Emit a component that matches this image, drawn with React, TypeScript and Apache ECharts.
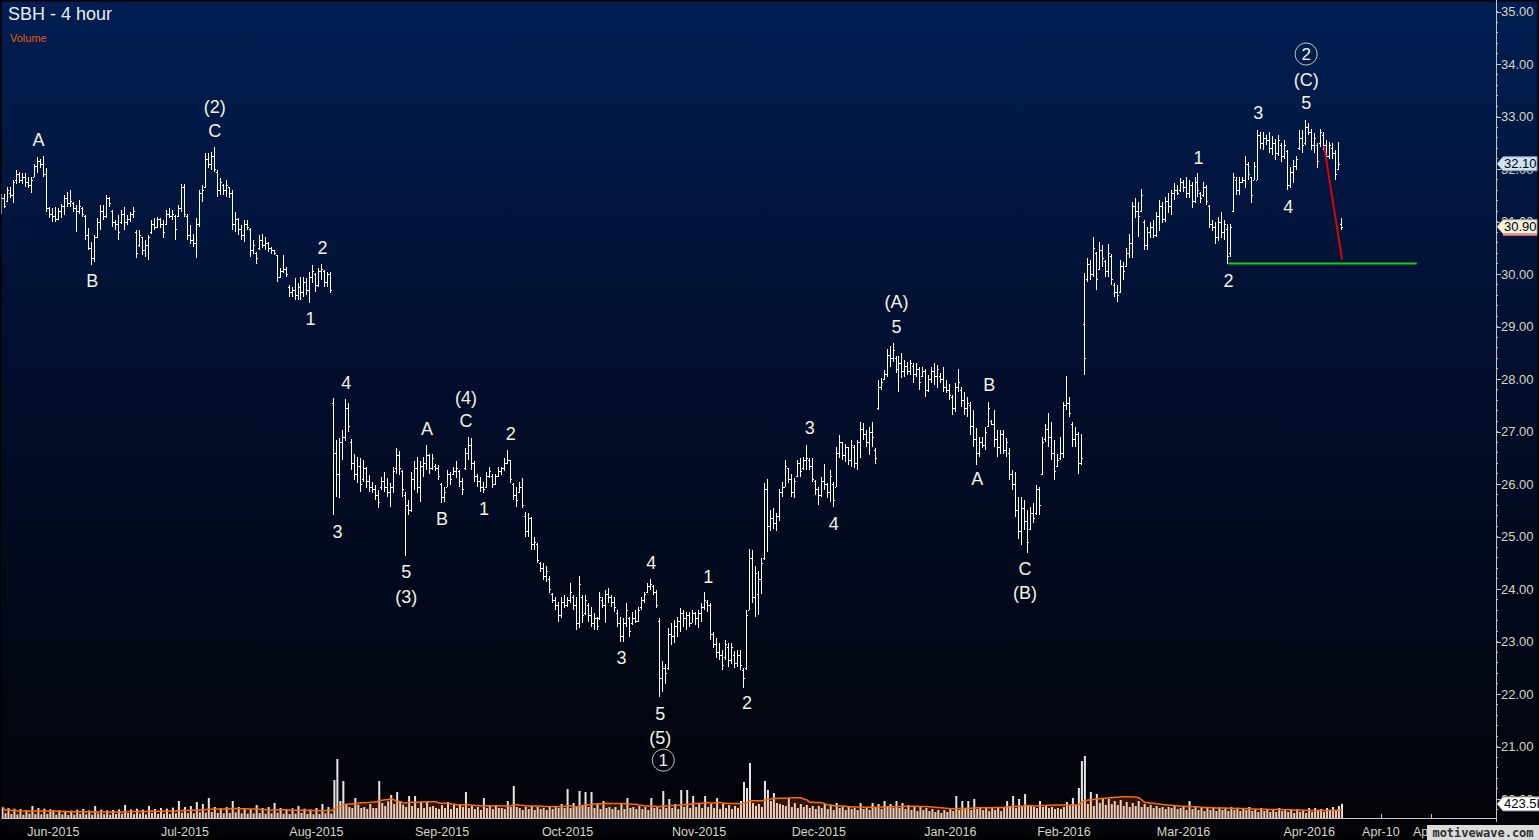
import React, { useEffect, useRef } from "react";
import * as echarts from "echarts";

// ---- OHLC bars (open, high, low, close), 4-hour bars, grouped by month ----
const barsMay2015 = [
  [31.20,31.53,31.14,31.45],[31.45,31.53,31.25,31.30],[31.40,31.66,31.38,31.60],[31.55,31.66,31.44,31.50],
  [31.50,31.80,31.36,31.75],[31.80,31.98,31.72,31.90],[31.90,31.95,31.74,31.80],[31.80,31.92,31.72,31.85],
  [31.85,31.92,31.66,31.75],[31.75,31.85,31.63,31.70],[31.70,31.84,31.55,31.80],[31.85,32.09,31.85,32.05],
  [32.05,32.23,31.92,32.15],[32.15,32.20,32.01,32.10],[32.10,32.25,31.85,31.90],[31.90,32.01,31.18,31.25],
  [31.25,31.28,31.06,31.15],
];
const barsJun2015 = [
  [31.15,31.25,30.99,31.10],[31.10,31.28,30.99,31.05],[31.05,31.25,31.03,31.20],[31.20,31.34,31.06,31.30],
  [31.30,31.50,31.12,31.45],[31.45,31.57,31.28,31.35],[31.35,31.60,31.28,31.40],[31.35,31.38,31.18,31.25],
  [31.25,31.31,30.80,31.20],[31.20,31.41,31.15,31.30],[31.25,31.28,31.09,31.15],[31.10,31.12,30.65,30.75],
  [30.75,30.87,30.45,30.50],[30.50,30.61,30.17,30.30],[30.30,30.74,30.23,30.70],[30.70,31.06,30.68,31.00],
  [31.00,31.31,30.84,31.20],[31.20,31.31,31.03,31.10],[31.10,31.50,31.06,31.45],[31.45,31.47,31.28,31.35],
  [31.20,31.22,30.90,31.00],[31.00,31.03,30.84,30.95],[30.95,31.12,30.65,30.80],[31.00,31.22,30.96,31.15],
  [31.15,31.28,30.84,31.00],[31.00,31.12,30.93,31.05],[31.05,31.18,30.99,31.15],[31.15,31.28,31.06,31.20],
  [30.80,30.84,30.30,30.40],[30.55,30.84,30.52,30.75],[30.70,30.71,30.36,30.45],[30.45,30.65,30.33,30.55],
  [30.55,30.74,30.26,30.70],[30.80,31.03,30.77,30.95],[30.95,31.06,30.84,30.90],[30.90,31.09,30.87,31.05],
  [31.05,31.06,30.87,30.95],[30.95,31.03,30.68,30.80],[30.95,31.22,30.93,31.15],[31.15,31.25,31.06,31.10],
  [31.10,31.22,31.03,31.15],[31.10,31.12,30.65,30.85],[31.10,31.31,31.09,31.25],[31.25,31.72,31.18,31.65],
];
const barsJul2015 = [
  [31.65,31.72,31.09,31.15],[31.10,31.15,30.65,30.75],[30.75,30.93,30.58,30.65],[30.65,30.77,30.52,30.60],
  [30.60,31.06,30.30,30.95],[30.95,31.60,30.90,31.55],[31.55,31.69,31.38,31.60],[31.65,32.30,31.63,32.20],
  [32.20,32.30,32.01,32.10],[32.10,32.33,31.98,32.25],[32.25,32.42,31.95,32.00],[31.95,31.98,31.47,31.60],
  [31.60,31.82,31.50,31.75],[31.70,31.72,31.50,31.60],[31.60,31.79,31.47,31.70],[31.65,31.66,31.44,31.55],
  [31.55,31.60,30.84,30.95],[30.95,31.18,30.80,31.05],[31.05,31.06,30.74,30.85],[30.85,30.93,30.65,30.75],
  [30.75,31.03,30.61,30.95],[30.95,31.03,30.84,30.90],[30.85,30.87,30.33,30.45],[30.45,30.65,30.39,30.55],
  [30.40,30.42,30.20,30.30],[30.50,30.74,30.45,30.65],[30.65,30.77,30.49,30.55],[30.55,30.71,30.45,30.60],
  [30.60,30.61,30.42,30.50],[30.50,30.52,30.39,30.45],[30.45,30.45,30.36,30.40],[30.36,30.36,29.85,29.95],
  [29.95,30.11,29.92,30.05],[30.05,30.36,30.01,30.10],[30.10,30.14,29.95,30.00],[29.75,29.79,29.57,29.65],
  [29.65,29.76,29.57,29.70],[29.70,29.92,29.50,29.60],[29.60,29.82,29.50,29.75],[29.75,29.95,29.50,29.65],
  [29.65,29.95,29.57,29.85],[29.85,29.92,29.60,29.70],[29.70,30.04,29.44,29.95],[29.95,30.17,29.82,30.05],
];
const barsAug2015 = [
  [30.00,30.01,29.66,29.80],[29.80,30.11,29.76,30.05],[30.05,30.20,29.88,30.10],[30.05,30.07,29.76,29.85],
  [29.85,30.04,29.76,30.00],[30.00,30.04,29.63,29.70],[27.55,27.63,25.41,26.60],[26.60,26.84,25.76,26.20],
  [26.20,26.87,25.73,26.80],[26.80,27.03,26.46,26.90],[26.90,27.61,26.81,27.45],[27.45,27.54,27.00,27.10],
  [26.80,26.85,26.27,26.40],[26.40,26.58,26.08,26.20],[26.20,26.52,26.01,26.35],[26.35,26.49,25.85,26.00],
  [26.10,26.46,26.04,26.30],[26.30,26.33,25.92,26.05],[26.05,26.17,25.85,25.95],[25.95,26.04,25.82,25.90],
  [25.90,25.98,25.70,25.80],[25.80,25.89,25.54,25.65],[25.95,26.14,25.89,26.05],[26.05,26.23,25.85,25.95],
  [25.95,26.11,25.76,25.85],[25.85,26.01,25.57,25.95],[25.95,26.33,25.82,26.25],[26.30,26.68,26.20,26.55],
  [26.55,26.62,26.17,26.30],[26.25,26.27,25.76,25.90],[25.80,25.85,24.62,25.60],[25.60,25.70,25.41,25.50],
  [25.50,26.23,25.47,26.10],[26.10,26.43,25.89,26.30],[26.30,26.52,25.82,25.95],[25.95,26.43,25.66,26.35],
  [26.35,26.52,26.14,26.40],[26.40,26.74,26.27,26.55],[26.55,26.58,26.20,26.30],[26.30,26.58,26.27,26.50],
  [26.35,26.39,26.24,26.30],[26.30,26.36,26.08,26.15],
];
const barsSep2015 = [
  [26.00,26.01,25.63,25.75],[25.75,25.95,25.66,25.85],[25.95,26.27,25.95,26.20],[26.20,26.23,25.98,26.10],
  [26.20,26.33,26.17,26.25],[26.25,26.43,26.11,26.30],[26.25,26.27,25.95,26.05],[26.05,26.11,25.79,25.90],
  [26.30,26.68,26.27,26.60],[26.60,26.90,26.46,26.75],[26.75,26.87,26.27,26.40],[26.40,26.43,26.04,26.15],
  [26.15,26.20,25.95,26.05],[26.05,26.14,25.85,25.95],[25.95,26.04,25.82,25.90],[25.95,26.23,25.92,26.15],
  [26.15,26.33,26.11,26.25],[26.15,26.20,25.92,26.00],[26.00,26.20,25.98,26.15],[26.15,26.33,26.14,26.25],
  [26.25,26.33,26.17,26.30],[26.30,26.49,26.24,26.40],[26.40,26.65,26.39,26.45],[26.45,26.46,26.01,26.10],
  [26.00,26.01,25.70,25.80],[25.80,25.95,25.57,25.70],[25.85,26.04,25.82,25.95],[25.95,26.11,25.54,25.60],
  [25.40,25.47,25.00,25.10],[25.10,25.44,25.00,25.35],[25.35,25.38,24.74,24.85],[24.85,25.00,24.74,24.90],
  [24.85,24.87,24.49,24.55],[24.50,24.52,24.33,24.40],[24.40,24.49,24.17,24.25],[24.25,24.43,24.14,24.35],
  [24.20,24.24,23.92,24.00],[23.90,23.92,23.73,23.80],[23.80,23.85,23.60,23.70],[23.70,23.76,23.38,23.50],
  [23.50,23.85,23.44,23.75],[23.75,23.89,23.63,23.70],
];
const barsOct2015 = [
  [23.70,23.85,23.66,23.80],[23.80,24.11,23.73,23.95],[23.85,23.89,23.60,23.70],[23.70,23.85,23.22,23.35],
  [23.35,24.24,23.25,24.10],[23.85,23.89,23.35,23.50],[23.55,23.89,23.51,23.80],[23.70,23.73,23.38,23.50],
  [23.50,23.66,23.28,23.35],[23.35,23.54,23.22,23.45],[23.45,23.47,23.22,23.30],[23.45,23.95,23.41,23.85],
  [23.80,23.85,23.63,23.70],[23.70,23.98,23.35,23.90],[23.90,24.01,23.73,23.85],[23.85,23.89,23.66,23.75],
  [23.75,23.85,23.57,23.65],[23.55,23.60,23.28,23.35],[23.35,23.47,22.99,23.10],[23.10,23.44,22.99,23.35],
  [23.35,23.73,23.28,23.60],[23.45,23.47,23.09,23.20],[23.35,23.57,23.31,23.45],[23.45,23.60,23.35,23.40],
  [23.40,23.66,23.38,23.60],[23.65,23.85,23.60,23.80],[23.80,23.95,23.73,23.90],[23.95,24.11,23.92,24.05],
  [24.05,24.20,23.98,24.10],[24.05,24.08,23.89,23.95],[23.95,23.98,23.63,23.70],[23.40,23.44,21.95,22.30],
  [22.30,22.62,22.04,22.50],[22.50,22.58,22.20,22.40],[22.50,23.25,22.46,23.15],[23.15,23.35,22.93,23.10],
  [23.10,23.41,22.97,23.30],[23.30,23.47,23.09,23.40],[23.40,23.63,23.19,23.55],[23.55,23.60,23.28,23.45],
  [23.45,23.57,23.22,23.50],[23.50,23.57,23.28,23.35],[23.35,23.60,23.35,23.55],[23.55,23.57,23.31,23.45],
];
const barsNov2015 = [
  [23.45,23.60,23.25,23.55],[23.55,23.73,23.38,23.65],[23.65,23.95,23.60,23.80],[23.75,23.79,23.57,23.70],
  [23.70,23.73,23.03,23.15],[23.15,23.19,22.87,22.95],[22.95,23.06,22.68,22.80],[22.80,22.97,22.65,22.75],
  [22.75,22.84,22.46,22.55],[22.70,23.03,22.65,22.95],[22.90,22.97,22.52,22.65],[22.65,22.97,22.58,22.90],
  [22.75,22.81,22.49,22.60],[22.60,22.84,22.52,22.75],[22.75,22.84,22.46,22.55],[22.45,22.49,22.11,22.30],
  [22.50,23.60,22.46,23.50],[23.60,24.77,23.60,24.60],[24.60,24.74,23.73,23.85],[23.85,24.43,23.47,24.30],
  [23.90,24.35,23.50,24.20],[24.20,24.60,23.90,24.50],[24.60,26.01,24.55,25.90],[25.90,26.10,24.70,25.20],
  [25.20,25.50,25.10,25.35],[25.35,25.55,25.15,25.25],[25.25,25.45,25.10,25.40],[25.40,25.90,25.30,25.85],
  [25.85,26.04,25.76,25.95],[25.95,26.46,25.95,26.35],[26.30,26.30,26.01,26.10],[26.10,26.20,25.76,25.85],
  [25.85,26.11,25.73,26.05],[26.15,26.46,26.14,26.40],[26.40,26.49,26.14,26.25],[26.30,26.52,26.27,26.45],
  [26.45,26.74,26.27,26.50],[26.45,26.49,26.27,26.35],[26.35,26.49,26.04,26.10],[26.05,26.08,25.79,25.90],
];
const barsDec2015 = [
  [25.90,25.95,25.60,25.80],[25.80,26.14,25.76,26.05],[26.05,26.39,25.88,26.00],[26.00,26.01,25.73,25.85],
  [25.85,26.27,25.66,26.15],[26.00,26.04,25.57,25.70],[25.95,26.71,25.95,26.60],[26.60,26.93,26.49,26.80],
  [26.80,26.80,26.46,26.55],[26.55,26.77,26.42,26.70],[26.70,26.71,26.36,26.45],[26.45,26.84,26.33,26.75],
  [26.70,26.74,26.30,26.40],[26.40,26.84,26.27,26.80],[26.80,27.19,26.49,27.05],[27.05,27.16,26.84,26.95],
  [26.95,27.03,26.71,26.80],[26.80,27.09,26.55,27.00],[27.00,27.19,26.71,26.90],[26.65,26.68,26.39,26.50],
  [27.45,27.98,27.41,27.85],[27.85,28.01,27.79,27.95],[28.00,28.17,27.98,28.10],[28.10,28.58,28.04,28.45],
  [28.45,28.62,28.23,28.40],[28.40,28.69,28.33,28.55],[28.40,28.43,28.11,28.20],[28.20,28.43,27.76,28.30],
  [28.30,28.49,28.01,28.15],[28.15,28.36,28.04,28.25],[28.25,28.33,28.08,28.15],[28.15,28.36,28.08,28.30],
  [28.25,28.30,27.92,28.10],[28.10,28.30,28.04,28.20],[28.20,28.23,27.79,27.95],[28.05,28.23,28.04,28.15],
  [28.15,28.20,27.66,27.80],[27.80,28.08,27.76,28.00],[28.00,28.23,27.92,28.15],[28.15,28.30,27.89,28.05],
  [28.05,28.27,27.82,28.20],[28.05,28.11,27.92,28.00],[28.00,28.23,27.76,27.85],[27.85,27.98,27.73,27.80],
];
const barsJan2016 = [
  [27.80,27.90,27.60,27.70],[27.65,27.69,27.31,27.45],[27.45,27.92,27.38,27.85],[27.85,28.20,27.76,27.95],
  [27.80,27.85,27.47,27.60],[27.60,27.76,27.31,27.45],[27.45,27.66,27.28,27.55],[27.50,27.57,26.93,27.10],
  [27.10,27.41,26.71,26.85],[26.85,27.06,26.36,26.60],[26.60,26.90,26.52,26.80],[26.80,26.90,26.68,26.75],
  [26.75,27.09,26.65,27.00],[27.10,27.57,27.09,27.45],[27.20,27.22,27.12,27.15],[27.15,27.41,26.71,26.85],
  [26.85,27.03,26.52,26.70],[26.70,27.03,26.58,26.95],[26.95,27.03,26.58,26.65],[26.65,26.87,26.52,26.80],
  [26.60,26.68,26.08,26.20],[26.20,26.27,25.89,26.00],[26.00,26.23,25.38,25.50],[25.50,25.76,24.96,25.10],
  [25.10,25.76,24.84,25.55],[25.55,25.69,25.12,25.30],[25.30,25.50,24.68,24.90],[25.15,25.57,25.12,25.45],
  [25.45,25.63,25.25,25.35],[25.45,25.98,25.41,25.90],[25.90,25.95,25.41,25.60],[26.20,26.90,26.17,26.80],
  [26.85,27.15,26.80,27.05],[27.05,27.35,26.71,26.90],[26.90,27.19,26.46,26.60],[26.60,26.84,26.08,26.25],
  [26.35,26.58,26.33,26.45],[26.50,26.90,26.46,26.60],
];
const barsFeb2016 = [
  [26.60,27.57,26.49,27.50],[27.50,28.06,27.41,27.55],[27.55,27.66,27.28,27.35],[27.15,27.19,26.71,26.85],
  [26.85,27.09,26.71,26.95],[26.95,26.99,26.20,26.40],[26.40,26.96,26.36,26.50],[29.05,30.01,28.08,28.40],
  [29.90,30.30,29.85,30.20],[30.20,30.27,29.89,30.00],[30.00,30.71,29.95,30.50],[30.40,30.42,29.70,29.90],
  [30.10,30.61,30.08,30.45],[30.45,30.55,30.14,30.30],[30.25,30.27,29.95,30.05],[30.05,30.58,29.95,30.40],
  [30.35,30.39,29.79,29.90],[29.80,29.82,29.57,29.65],[29.65,29.79,29.47,29.60],[29.65,30.27,29.63,30.15],
  [30.15,30.23,29.89,30.05],[30.15,30.49,30.14,30.40],[30.40,30.77,30.30,30.60],[30.60,31.38,30.30,31.30],
  [31.30,31.44,31.06,31.20],[31.20,31.38,30.71,31.10],[31.20,31.61,31.19,31.50],[31.00,31.03,30.46,30.55],
  [30.55,30.90,30.46,30.80],[30.80,30.99,30.68,30.90],[30.90,31.03,30.68,30.75],[30.75,31.19,30.71,31.10],
  [31.10,31.41,30.81,31.30],[31.30,31.38,30.97,31.05],[31.05,31.47,31.00,31.40],[31.40,31.54,31.16,31.30],
  [31.30,31.60,31.12,31.55],[31.55,31.73,31.41,31.60],[31.60,31.70,31.50,31.55],[31.60,31.82,31.57,31.75],
];
const barsMar2016 = [
  [31.75,31.79,31.57,31.65],[31.65,31.85,31.44,31.55],[31.55,31.79,31.44,31.70],[31.70,31.76,31.25,31.40],
  [31.40,31.85,31.35,31.75],[31.75,31.92,31.47,31.60],[31.55,31.57,31.35,31.45],[31.50,31.76,31.47,31.65],
  [31.65,31.70,31.31,31.40],[31.30,31.31,30.87,30.95],[30.95,31.03,30.81,30.90],[30.90,31.00,30.58,30.70],
  [30.70,31.09,30.62,31.00],[31.00,31.19,30.68,30.80],[30.80,31.03,30.65,30.95],[30.85,30.96,30.20,30.35],
  [30.40,30.96,30.33,30.90],[31.20,31.92,31.19,31.85],[31.80,31.85,31.50,31.60],[31.60,31.85,31.50,31.75],
  [31.75,31.85,31.73,31.80],[31.80,32.24,31.63,32.10],[32.10,32.14,31.79,31.90],[31.85,31.85,31.35,31.50],
  [31.80,32.14,31.79,32.05],[31.80,32.74,31.79,32.65],[32.65,32.71,32.39,32.50],[32.50,32.71,32.36,32.60],
  [32.60,32.65,32.46,32.55],[32.55,32.71,32.30,32.40],[32.40,32.62,32.27,32.50],[32.50,32.58,32.17,32.30],
  [32.30,32.65,32.24,32.55],[32.45,32.49,32.14,32.25],[32.25,32.55,32.20,32.45],[32.35,32.36,31.60,31.70],
  [31.70,32.04,31.63,31.95],[31.95,32.17,31.73,32.05],[32.05,32.24,31.98,32.20],[32.40,32.74,32.36,32.60],
  [32.60,32.74,32.30,32.45],[32.50,32.93,32.46,32.80],
];
const barsApr2016 = [
  [32.80,32.87,32.65,32.70],[32.70,32.77,32.36,32.45],[32.45,32.68,32.30,32.60],[32.45,32.49,32.01,32.15],
  [32.50,32.77,32.42,32.70],[32.65,32.71,32.36,32.45],[32.45,32.55,32.14,32.25],[32.25,32.52,32.20,32.45],
  [32.40,32.49,32.20,32.30],[32.30,32.36,31.79,31.90],[32.00,32.52,31.98,32.10],[30.95,31.06,30.84,30.90],
];

// ---- Volume (thousands of shares) per bar ----
const volMay2015 = [330,140,300,120,280,110,270,100,240,130,360,120,300,110,280,120,260];
const volJun2015 = [230,100,240,110,210,90,220,100,250,120,270,110,230,100,360,140,250,110,230,100,240,120,260,130,390,150,260,120,280,130,250,110,360,150,270,120,300,130,280,120,310,140,510,160];
const volJul2015 = [330,150,360,140,480,170,420,160,600,180,330,150,300,140,330,150,510,170,330,140,300,130,270,140,390,150,300,130,330,140,450,160,300,130,270,120,290,130,360,150,280,120,250,110];
const volAug2015 = [300,120,420,140,330,130,1140,1770,510,1110,420,330,300,600,400,300,330,270,420,300,300,1110,450,360,500,690,420,780,480,400,330,660,360,660,300,480,300,510,330,360,300,270];
const volSep2015 = [390,300,480,270,390,300,420,330,780,300,360,270,330,240,600,300,360,270,360,300,300,270,510,330,960,330,300,240,330,270,360,240,330,270,300,240,360,270,330,300,420,300];
const volOct2015 = [870,300,450,330,810,360,780,330,780,300,420,270,510,300,330,270,330,240,450,270,600,300,330,270,360,270,330,240,600,300,360,270,810,300,570,300,420,270,840,330,840,300,660,330];
const volNov2015 = [450,300,660,330,420,300,600,270,420,300,390,270,360,300,510,1080,900,1650,450,360,420,330,1110,840,510,750,450,420,390,360,600,330,450,300,420,330,390,300,360,270];
const volDec2015 = [360,300,420,270,390,240,450,300,330,240,360,270,300,240,450,270,330,240,450,300,420,270,510,330,420,300,510,300,450,270,390,240,360,210,330,240,300,210,270,180,240,150,240,180];
const volJan2016 = [300,210,660,240,510,270,510,240,570,270,330,240,330,210,300,240,300,210,300,510,360,660,300,570,330,720,390,360,330,300,510,330,360,300,330,270,300,270];
const volFeb2016 = [330,480,360,600,390,900,1710,1860,420,780,360,720,450,600,390,570,420,510,390,540,360,480,330,450,360,510,330,420,330,390,300,360,300,330,270,330,300,360,270,300];
const volMar2016 = [360,240,510,270,330,240,300,210,330,240,300,210,330,240,300,210,330,240,300,210,300,240,330,210,270,180,300,210,270,180,270,180,300,210,270,180,240,150,270,180,240,150];
const volApr2016 = [300,180,300,210,270,180,300,210,330,240,360,423.5];

// ---- Time axis labels ----
const TOTAL_SLOTS = 500;
const monthTickIndex = [17, 61, 105, 147, 189, 233, 273, 317, 355, 395, 437, 461, 478];
const monthTickLabel = ["Jun-2015","Jul-2015","Aug-2015","Sep-2015","Oct-2015","Nov-2015","Dec-2015","Jan-2016","Feb-2016","Mar-2016","Apr-2016","Apr-10","Apr-17"];

// ---- Price axis ----
const PRICE_MIN = 19.6;
const PRICE_MAX = 35.2;
const PRICE_MINOR_STEP = 0.2;
const priceMajorTicks = [20, 21, 22, 23, 24, 25, 26, 27, 28, 29, 30, 31, 32, 33, 34, 35];

// ---- Elliott wave annotations ----
const waveText = ["A","B","(2)","C","1","2","3","4","5","(3)","A","B","(4)","C","1","2","3","4","5","(5)","1","2","3","4","(A)","5","A","B","C","(B)","1","2","3","4","5","(C)"];
const waveIdx = [12,30,71,71,103,107,112,115,135,135,142,147,155,155,161,170,207,217,220,220,236,249,270,278,299,299,326,330,342,342,400,410,420,430,436,436];
const wavePrice = [32.55,29.87,33.18,32.72,29.14,30.50,25.09,27.92,24.32,23.85,27.05,25.33,27.64,27.20,25.52,26.95,22.69,24.50,21.62,21.16,24.23,21.83,27.07,25.24,29.47,28.99,26.10,27.89,24.38,23.92,32.21,29.87,33.07,31.28,33.26,33.70];
const circledText = ["1", "2"];
const circledIdx = [221, 436];
const circledPrice = [20.74, 34.19];

// ---- Trend lines ----
const greenLine = [[410, 30.2], [473, 30.2]];
const redLine = [[442, 32.44], [448, 30.28]];

// ---- Price tags ----
const lastTagPrice = 32.1;
const closeTagPrice = 30.9;
const volumeTagValue = 423.5;

const FONT = "Liberation Sans, Arial, sans-serif";
const AXIS_TEXT = "#d6d6c2";
const AXIS_LINE = "#c4c4c4";
const WAVE_TEXT = "#f2f2e6";

export default function App() {
  const ref = useRef<HTMLDivElement>(null);

  useEffect(() => {
    const chart = echarts.init(ref.current as HTMLDivElement, null, { renderer: "svg" });
    const allBars = [
      ...barsMay2015, ...barsJun2015, ...barsJul2015, ...barsAug2015, ...barsSep2015, ...barsOct2015,
      ...barsNov2015, ...barsDec2015, ...barsJan2016, ...barsFeb2016, ...barsMar2016, ...barsApr2016,
    ];
    const ohlc = allBars.map((b, i) => [i, b[0], b[1], b[2], b[3]]);
    const vol = [
      ...volMay2015, ...volJun2015, ...volJul2015, ...volAug2015, ...volSep2015, ...volOct2015,
      ...volNov2015, ...volDec2015, ...volJan2016, ...volFeb2016, ...volMar2016, ...volApr2016,
    ];
    const maPeriod = 20;
    const volMA = vol.map((_, i) => {
      const s = Math.max(0, i - maPeriod + 1);
      let sum = 0;
      for (let k = s; k <= i; k++) sum += vol[k];
      return +(sum / (i - s + 1)).toFixed(1);
    });
    const cats = Array.from({ length: TOTAL_SLOTS }, (_, i) => String(i));
    const labelMap = new Map<number, string>();
    monthTickIndex.forEach((k, j) => labelMap.set(k, monthTickLabel[j]));

    const option: any = {
      animation: false,
      backgroundColor: new echarts.graphic.LinearGradient(0, 0, 0, 1, [
        { offset: 0, color: "#001e52" },
        { offset: 0.45, color: "#020e2c" },
        { offset: 1, color: "#020307" },
      ]),
      textStyle: { fontFamily: FONT },
      grid: [
        { left: 1, right: 43, top: 1, bottom: 20 },
        { left: 1, right: 43, bottom: 22, height: 70 },
      ],
      xAxis: [
        { type: "category", gridIndex: 0, data: cats, show: false },
        {
          type: "category", gridIndex: 1, data: cats, offset: 4,
          axisLine: { show: true, lineStyle: { color: AXIS_LINE, width: 1 } },
          axisTick: {
            show: true, inside: true, length: 4, alignWithLabel: true,
            interval: (index: number) => labelMap.has(index),
            lineStyle: { color: AXIS_LINE },
          },
          axisLabel: {
            show: true, margin: 3, color: AXIS_TEXT, fontSize: 12.5, fontFamily: FONT,
            interval: (index: number) => labelMap.has(index),
            formatter: (_v: string, index: number) => labelMap.get(index) || "",
          },
          splitLine: { show: false },
        },
      ],
      yAxis: [
        {
          type: "value", gridIndex: 0, position: "right", min: PRICE_MIN, max: PRICE_MAX, interval: PRICE_MINOR_STEP,
          axisLine: { show: false },
          axisTick: { show: true, length: 2, lineStyle: { color: AXIS_LINE } },
          axisLabel: {
            show: true, margin: 5, color: AXIS_TEXT, fontSize: 13, fontFamily: FONT,
            showMinLabel: false, showMaxLabel: false,
            formatter: (v: number) => (Math.abs(v - Math.round(v)) < 1e-6 ? Math.round(v).toFixed(2) : ""),
          },
          splitLine: { show: false },
        },
        {
          type: "value", gridIndex: 1, min: 0, max: 2100, show: false, splitLine: { show: false },
        },
      ],
      series: [
        {
          type: "custom", name: "SBH", xAxisIndex: 0, yAxisIndex: 0, z: 5,
          data: ohlc,
          encode: { x: 0, y: [1, 2, 3, 4] },
          renderItem: (_params: any, api: any) => {
            const i = api.value(0);
            const o = api.coord([i, api.value(1)]);
            const h = api.coord([i, api.value(2)]);
            const l = api.coord([i, api.value(3)]);
            const c = api.coord([i, api.value(4)]);
            const cx = Math.round(h[0]) - 1;
            const top = Math.round(h[1]);
            const bot = Math.round(l[1]);
            const fill = "#ffffff";
            return {
              type: "group",
              children: [
                { type: "rect", shape: { x: cx, y: top, width: 1, height: Math.max(1, bot - top) }, style: { fill } },
                { type: "rect", shape: { x: cx - 1, y: Math.round(o[1]), width: 1, height: 1 }, style: { fill } },
                { type: "rect", shape: { x: cx + 1, y: Math.round(c[1]), width: 1, height: 1 }, style: { fill } },
              ],
            };
          },
        },
        {
          type: "line", xAxisIndex: 0, yAxisIndex: 0, data: greenLine, symbol: "none", z: 6,
          lineStyle: { color: "#10d010", width: 2 },
        },
        {
          type: "line", xAxisIndex: 0, yAxisIndex: 0, data: redLine, symbol: "none", z: 6,
          lineStyle: { color: "#e00000", width: 2 },
        },
        {
          type: "scatter", xAxisIndex: 0, yAxisIndex: 0, z: 7, symbolSize: 1,
          itemStyle: { color: "rgba(0,0,0,0)" },
          data: waveText.map((t, k) => ({ name: t, value: [waveIdx[k], wavePrice[k]] })),
          label: {
            show: true, position: "inside", formatter: "{b}", color: WAVE_TEXT,
            fontSize: 18, fontFamily: FONT, textBorderWidth: 0, opacity: 1,
          },
        },
        {
          type: "scatter", xAxisIndex: 0, yAxisIndex: 0, z: 7, symbol: "circle", symbolSize: 22,
          itemStyle: { color: "rgba(0,0,0,0)", borderColor: WAVE_TEXT, borderWidth: 1 },
          data: circledText.map((t, k) => ({ name: t, value: [circledIdx[k], circledPrice[k]] })),
          label: {
            show: true, position: "inside", formatter: "{b}", color: WAVE_TEXT,
            fontSize: 17, fontFamily: FONT, textBorderWidth: 0, opacity: 1,
          },
        },
        {
          type: "bar", xAxisIndex: 1, yAxisIndex: 1, data: vol, barWidth: 2, z: 2,
          itemStyle: { color: "#e6e6e6" },
        },
        {
          type: "line", xAxisIndex: 1, yAxisIndex: 1, data: volMA, symbol: "none", z: 3,
          lineStyle: { color: "#ff6a00", width: 1.5 },
          areaStyle: { color: "rgba(255,102,0,0.27)" },
        },
      ],
    };
    chart.setOption(option);

    const yLast = chart.convertToPixel({ yAxisIndex: 0 }, lastTagPrice) as number;
    const yClose = chart.convertToPixel({ yAxisIndex: 0 }, closeTagPrice) as number;
    const yVol = chart.convertToPixel({ yAxisIndex: 1 }, volumeTagValue) as number;
    const majorTickEls = priceMajorTicks.map((v) => {
      const y = Math.round(chart.convertToPixel({ yAxisIndex: 0 }, v) as number) + 0.5;
      return { type: "line", z: 90, shape: { x1: 1496, y1: y, x2: 1501, y2: y }, style: { stroke: AXIS_LINE, lineWidth: 1 } };
    });

    const tag = (y: number, text: string, fill: string, stroke: string, right = 1537) => [
      {
        type: "polygon", z: 100,
        shape: { points: [[1497, y], [1503, y - 7], [right, y - 7], [right, y + 7], [1503, y + 7]] },
        style: { fill, stroke, lineWidth: 1 },
      },
      {
        type: "text", z: 101, x: 1504, y: y, style: {
          text, fill: "#000000", font: `13px ${FONT}`, verticalAlign: "middle", align: "left",
        },
      },
    ];

    chart.setOption({
      graphic: [
        { type: "rect", z: 90, shape: { x: 0.5, y: 0.5, width: 1538, height: 839 }, style: { fill: "none", stroke: "#000000", lineWidth: 2 } },
        { type: "line", z: 90, shape: { x1: 1496.5, y1: 0, x2: 1496.5, y2: 822 }, style: { stroke: AXIS_LINE, lineWidth: 1 } },
        ...majorTickEls,
        {
          type: "text", z: 90, x: 8, y: 5,
          style: { text: "SBH - 4 hour", fill: "#ececec", font: `18px ${FONT}` },
        },
        {
          type: "text", z: 90, x: 10, y: 32,
          style: { text: "Volume", fill: "#e25c08", font: `11px ${FONT}` },
        },
        ...tag(yLast, "32.10", "#cfe3f6", "#7e9cc0"),
        ...tag(yClose, "30.90", "#f4f0da", "#a8a8a0"),
        { type: "line", z: 101, shape: { x1: 1503, y1: yClose + 8, x2: 1537, y2: yClose + 8 }, style: { stroke: "#f09090", lineWidth: 2 } },
        ...tag(yVol, "423.5K", "#ffffff", "#9a9a9a", 1545),
        { type: "rect", z: 110, shape: { x: 1427, y: 825, width: 112, height: 15 }, style: { fill: "#dcdcdc" } },
        {
          type: "text", z: 111, x: 1483, y: 832.5,
          style: { text: "motivewave.com", fill: "#303030", font: `bold 12px DejaVu Sans Mono, monospace`, align: "center", verticalAlign: "middle" },
        },
      ],
    });

    return () => chart.dispose();
  }, []);

  return <div ref={ref} style={{ position: "fixed", left: 0, top: 0, width: 1539, height: 840 }} />;
}
